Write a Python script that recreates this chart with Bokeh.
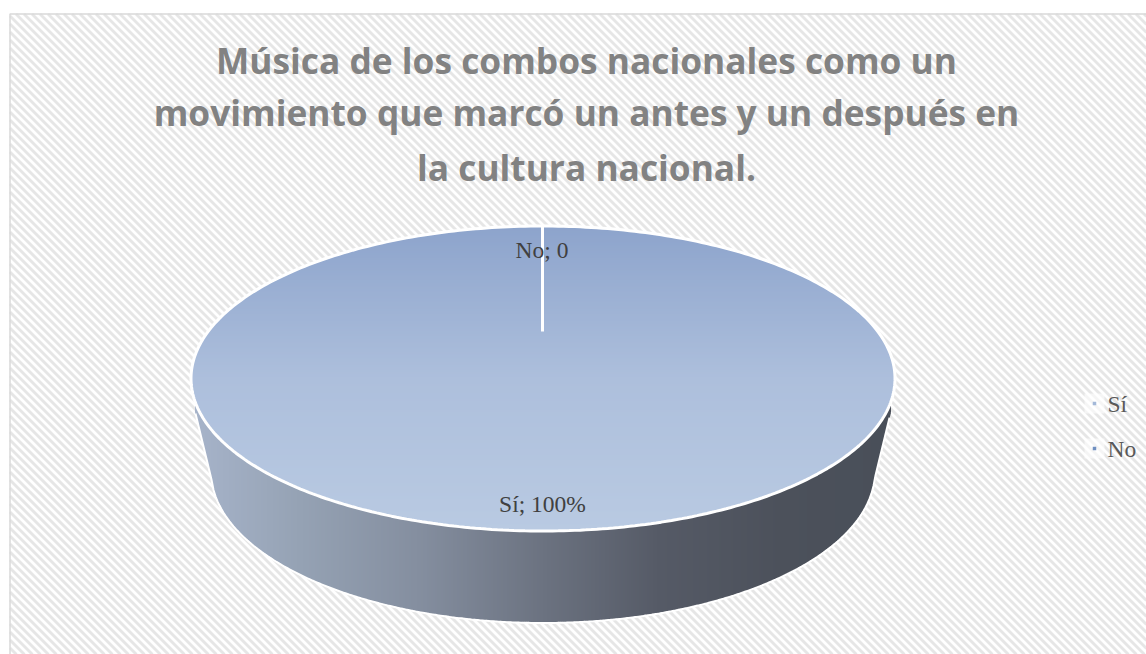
import numpy as np
from bokeh.plotting import figure
from bokeh.models import Range1d
from bokeh.core.properties import value
from bokeh.embed import file_html
from bokeh.resources import INLINE

title_lines = ["Música de los combos nacionales como un",
               "movimiento que marcó un antes y un después en",
               "la cultura nacional."]
categories = ["Sí", "No"]
values = [100, 0]
data_labels = ["Sí; 100%", "No; 0"]

W, H = 1146, 654
p = figure(width=W, height=H, output_backend="svg", toolbar_location=None,
           x_range=Range1d(0, W), y_range=Range1d(H, 0), min_border=0)
p.axis.visible = False
p.grid.visible = False
p.outline_line_color = None
p.background_fill_color = "white"
p.border_fill_color = "white"

# chart area
L, T = 9.5, 13.5
p.quad(left=[L], right=[W + 5], top=[T], bottom=[H + 5], fill_color="white", line_color=None)

# 45 degree stripes of the chart area's pattern fill
period = 8.0
hx, hy = [], []
for k in np.arange(-W - 8, H + 8, period):
    x0 = max(L, T - k)
    x1 = min(W, H - k)
    if x1 > x0:
        hx.append([x0, x1]); hy.append([x0 + k, x1 + k])
p.multi_line(hx, hy, line_color="#e6e6e6", line_width=2.9)
p.line([L, L, W], [H, T, T], line_color="#d9d9d9", line_width=1.5)

# geometry
cx, cy, rx, ry = 542.5, 378.0, 351.0, 151.5
bx, by, brx, bry = 542.5, 470.0, 332.0, 151.5

stops_x = [196, 300, 420, 540, 660, 780, 890]
stops_c = [(0xa6, 0xb3, 0xc9), (0x95, 0xa2, 0xb4), (0x84, 0x8e, 0x9f), (0x6c, 0x73, 0x81),
           (0x55, 0x5a, 0x66), (0x4c, 0x51, 0x5b), (0x49, 0x4f, 0x59)]
def side_col(x):
    r = [np.interp(x, stops_x, [c[i] for c in stops_c]) for i in range(3)]
    return "#%02x%02x%02x" % tuple(int(round(v)) for v in r)

xs_side, ys_side, cols_side = [], [], []
xl_top, yl = 195.0, 412.0
xl_bot, yb = 211.0, 478.0
xr_top, xr_bot = 890.0, 874.0
step = 2.0
def upper(x):
    return cy + ry * np.sqrt(np.clip(1 - ((x - cx) / rx) ** 2, 0, 1))
def lower(x):
    if x < xl_bot:
        return yl + (x - xl_top) / (xl_bot - xl_top) * (yb - yl)
    if x > xr_bot:
        return yb + (x - xr_bot) / (xr_top - xr_bot) * (yl - yb)
    return by + bry * np.sqrt(np.clip(1 - ((x - bx) / brx) ** 2, 0, 1))
for x0 in np.arange(xl_top, xr_top, step):
    x1 = min(x0 + step, xr_top)
    xs_side.append([x0, x1, x1, x0])
    ys_side.append([upper(x0) - 2, upper(x1) - 2, lower(x1), lower(x0)])
    cols_side.append(side_col((x0 + x1) / 2))
p.patches(xs_side, ys_side, fill_color=cols_side, line_color=cols_side, line_width=1)

sx = np.arange(xl_top, xr_top + 1, 2.0)
p.line(sx.tolist(), [lower(v) + 1 for v in sx], line_color="white", line_width=2)

# top face: horizontal strips with a vertical gradient
grad_t = [0.0, 0.5, 1.0]
grad_c = [(0x8d, 0xa4, 0xcc), (0xad, 0xbf, 0xdc), (0xb9, 0xca, 0xe2)]
def top_col(f):
    r = [np.interp(f, grad_t, [c[i] for c in grad_c]) for i in range(3)]
    return "#%02x%02x%02x" % tuple(int(round(v)) for v in r)
xs_top, ys_top, cols_top = [], [], []
for y0 in np.arange(cy - ry, cy + ry, 2.0):
    sub = np.linspace(y0, y0 + 2.0, 4)
    half = rx * np.sqrt(np.clip(1 - ((sub - cy) / ry) ** 2, 0, 1))
    xs_top.append(np.concatenate([cx - half, (cx + half)[::-1]]).tolist())
    ys_top.append(np.concatenate([sub, sub[::-1]]).tolist())
    cols_top.append(top_col((y0 - (cy - ry)) / (2 * ry)))
p.patches(xs_top, ys_top, fill_color=cols_top, line_color=cols_top, line_width=1)

# slice outlines, driven by the values
shares = np.array(values, dtype=float) / sum(values)
angle_start = 2 * np.pi * np.cumsum(shares)
t = np.linspace(0, 2 * np.pi, 400)
p.line((cx + (rx + 1) * np.cos(t)).tolist(), (cy + (ry + 1) * np.sin(t)).tolist(),
       line_color="white", line_width=3)
apex_y = 331.0
for a in angle_start[:1]:
    xe = cx + rx * np.sin(a) - 0.5
    ye = cy - ry * np.cos(a)
    p.line([xe, xe], [apex_y, ye], line_color="white", line_width=3)

# title
p.text(x=[586] * 3, y=[59.5, 111.5, 166], text=title_lines, text_align="center", text_baseline="middle",
       text_font=value("Open Sans"), text_font_style="bold", text_font_size="35.3px",
       text_color="#828282")

# data labels
p.text(x=[542, 541.5], y=[503, 249], text=data_labels, text_align="center", text_baseline="middle",
       text_font=value("Liberation Serif"), text_font_size="23.5px", text_color="#404040")

# legend
leg_y = [403, 448]
p.rect(x=[1094, 1094], y=leg_y, width=20, height=20, fill_color="white", fill_alpha=0.6, line_color=None)
p.scatter(x=[1094, 1094], y=leg_y, size=3.5, marker="square",
          fill_color=["#a3b8d8", "#6f8fc0"], line_color=None)
p.text(x=[1107, 1107], y=leg_y, text=categories, text_align="left", text_baseline="middle",
       text_font=value("Liberation Serif"), text_font_size="23.5px", text_color="#595959")

open("out.html", "w").write(file_html(p, INLINE))
